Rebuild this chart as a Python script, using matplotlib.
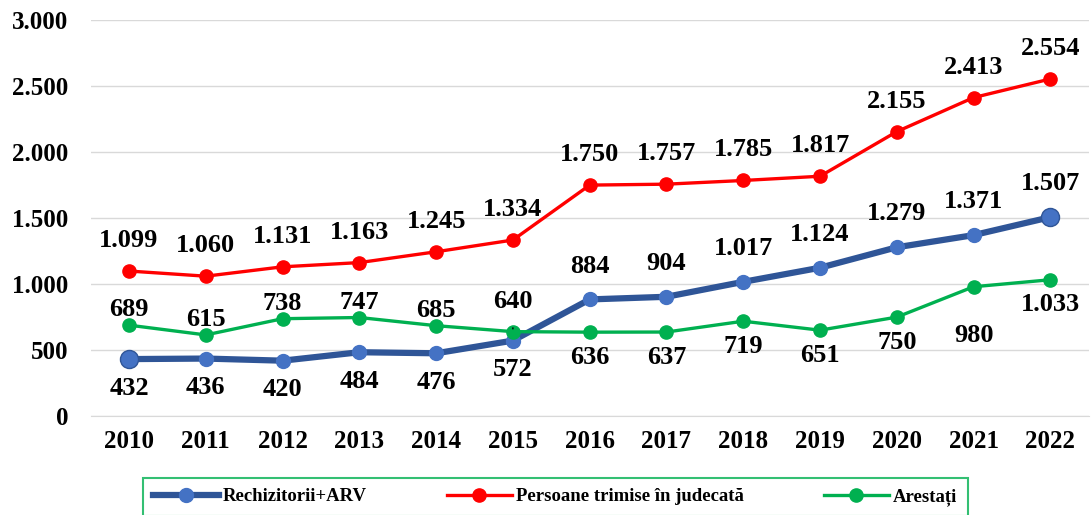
import numpy as np
import matplotlib
matplotlib.use("Agg")
from matplotlib import pyplot as plt
from matplotlib.ticker import FuncFormatter

years = ["2010", "2011", "2012", "2013", "2014", "2015", "2016",
         "2017", "2018", "2019", "2020", "2021", "2022"]
rechizitorii = [432, 436, 420, 484, 476, 572, 884, 904, 1017, 1124, 1279, 1371, 1507]
persoane = [1099, 1060, 1131, 1163, 1245, 1334, 1750, 1757, 1785, 1817, 2155, 2413, 2554]
arestati = [689, 615, 738, 747, 685, 640, 636, 637, 719, 651, 750, 980, 1033]

plt.rcParams['font.family'] = ['Liberation Serif', 'DejaVu Serif']
plt.rcParams['font.weight'] = 'bold'


def fmt(v):
    return "{:,}".format(int(v)).replace(",", ".")


fig = plt.figure(figsize=(10.92, 5.15), dpi=100)
ax = fig.add_axes([0.083, 0.192, 0.914, 0.769])
x = np.arange(len(years))

blue_line = '#2F5597'
blue_mark = '#4472C4'
red = '#FF0000'
green = '#00B050'

ax.plot(x, rechizitorii, color=blue_line, lw=4.5, marker='o', ms=10,
        mfc=blue_mark, mec=blue_mark, label='Rechizitorii+ARV', zorder=3)
# first and last points bigger
ax.plot([x[0], x[-1]], [rechizitorii[0], rechizitorii[-1]], 'o', ms=13,
        mfc=blue_mark, mec=blue_line, mew=1, zorder=4)
ax.plot(x, persoane, color=red, lw=2.4, marker='o', ms=9.5, label='Persoane trimise în judecată', zorder=3)
ax.plot(x, arestati, color=green, lw=2.4, marker='o', ms=9.5, label='Arestați', zorder=3)

lab_kw = dict(ha='center', va='center', fontsize=19, fontweight='bold', textcoords='offset points')

for i, v in enumerate(persoane):
    ax.annotate(fmt(v), (x[i], v), xytext=(0, 22), **lab_kw)

for i, v in enumerate(rechizitorii):
    dy = -21 if i <= 5 else 24
    ax.annotate(fmt(v), (x[i], v), xytext=(0, dy), **lab_kw)

for i, v in enumerate(arestati):
    if i < 5:
        ax.annotate(fmt(v), (x[i], v), xytext=(0, 11), **lab_kw)
    elif i == 5:
        ax.annotate(fmt(v), (x[i], v), xytext=(0, 22),
                    arrowprops=dict(arrowstyle='-', color='black', lw=1, shrinkA=9, shrinkB=2),
                    **lab_kw)
    elif i == 11:
        ax.annotate(fmt(v), (x[i], v), xytext=(0, -35), **lab_kw)
    else:
        ax.annotate(fmt(v), (x[i], v), xytext=(0, -18), **lab_kw)

ax.set_xlim(-0.5, len(years) - 0.5)
ax.set_ylim(0, 3000)
ax.set_yticks(np.arange(0, 3001, 500))
ax.yaxis.set_major_formatter(FuncFormatter(lambda v, p: fmt(v)))
ax.set_xticks(x)
ax.set_xticklabels(years)
ax.tick_params(axis='both', length=0, labelsize=18)
ax.tick_params(axis='x', pad=10)
ax.tick_params(axis='y', pad=16)
ax.grid(axis='y', color='#D9D9D9', lw=1)
ax.set_axisbelow(True)
for s in ['top', 'right', 'left']:
    ax.spines[s].set_visible(False)
ax.spines['bottom'].set_color('#D9D9D9')

leg = fig.legend(loc='upper left', bbox_to_anchor=(0.131, -0.2, 0.755, 0.272),
                 mode='expand', ncol=3, frameon=True, fancybox=False,
                 prop=dict(size=13.5, weight='bold'), handlelength=3.5,
                 borderpad=0.55, handletextpad=0.2, borderaxespad=0)
leg.get_frame().set_edgecolor(green)
leg.get_frame().set_linewidth(1.5)

fig.savefig('out.png', dpi=100)
